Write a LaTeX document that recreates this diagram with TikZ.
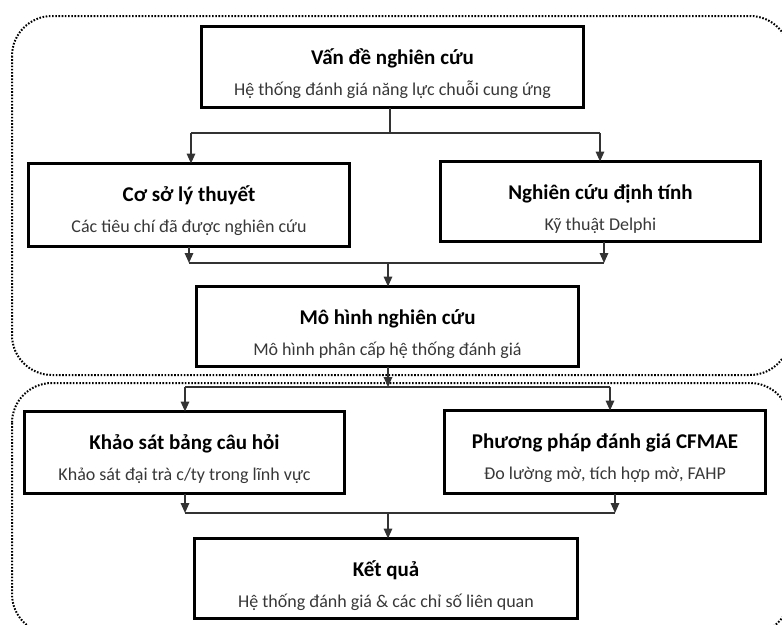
\documentclass[tikz,border=0pt]{standalone}
\usepackage{fontspec}
\setmainfont{Carlito}
\usetikzlibrary{arrows.meta}
\begin{document}
\begin{tikzpicture}[x=1pt,y=-1pt,
  box/.style={draw=black, line width=2.6pt, fill=white, inner sep=0pt, outer sep=0pt},
  ttl/.style={font=\fontsize{21}{24}\selectfont\bfseries, text=black, anchor=base, inner sep=0pt},
  sub/.style={font=\fontsize{18}{21}\selectfont, text=black!78, anchor=base, inner sep=0pt},
  conn/.style={draw=black!80, line width=1.6pt},
  arr/.style={conn, -{Triangle[width=8.5pt,length=10pt]}},
  region/.style={draw=black, line width=2pt, dash pattern=on 1.6pt off 1.6pt, rounded corners=40pt}
]
\useasboundingbox (0,0) rectangle (782,624);
\begin{scope}
\clip (0,0) rectangle (782,624);
\draw[region] (12,16) rectangle (790,375);
\draw[region] (12,383) rectangle (790,634);
\end{scope}
\node[box, minimum width=382, minimum height=81] (b1) at (392.5,67) {};
\node[box, minimum width=321, minimum height=83] (b2) at (189,205) {};
\node[box, minimum width=320, minimum height=80] (b3) at (600.5,201.5) {};
\node[box, minimum width=382, minimum height=80] (b4) at (387.5,326.5) {};
\node[box, minimum width=320, minimum height=82] (b5) at (184.5,452.5) {};
\node[box, minimum width=321, minimum height=83] (b6) at (605,452) {};
\node[box, minimum width=383, minimum height=80] (b7) at (386,578.5) {};
\foreach \b/\t/\s in {b1/{Vấn đề nghiên cứu}/{Hệ thống đánh giá năng lực chuỗi cung ứng},
  b2/{Cơ sở lý thuyết}/{Các tiêu chí đã được nghiên cứu},
  b3/{Nghiên cứu định tính}/{Kỹ thuật Delphi},
  b4/{Mô hình nghiên cứu}/{Mô hình phân cấp hệ thống đánh giá},
  b5/{Khảo sát bảng câu hỏi}/{Khảo sát đại trà c/ty trong lĩnh vực},
  b6/{Phương pháp đánh giá CFMAE}/{Đo lường mờ, tích hợp mờ, FAHP},
  b7/{Kết quả}/{Hệ thống đánh giá \& các chỉ số liên quan}}{
  \node[ttl] (\b t) at ([yshift=-38pt]\b.north) {\t};
  \node[sub] (\b s) at ([yshift=-69pt]\b.north) {\s};
}
% junctions
\coordinate (j1) at (390,133);
\coordinate (j1l) at (191,133);
\coordinate (j1r) at (600,133);
\coordinate (j2) at (388,263);
\coordinate (j2l) at (189,263);
\coordinate (j2r) at (604,263);
\coordinate (j3) at (388,387);
\coordinate (j3l) at (185,387);
\coordinate (j3r) at (610,387);
\coordinate (j4) at (388,513);
\coordinate (j4l) at (185,513);
\coordinate (j4r) at (615,513);
% level 1
\draw[conn] (b1.south -| j1) -- (j1);
\draw[conn] (j1l) -- (j1r);
\draw[arr] (j1l) -- (j1l |- b2.north);
\draw[arr] (j1r) -- (j1r |- b3.north);
% level 2
\draw[arr] (j2l |- b2.south) -- (j2l);
\draw[arr] (j2r |- b3.south) -- (j2r);
\draw[conn] (j2l) -- (j2r);
\draw[arr] (j2) -- (j2 |- b4.north);
% level 3
\draw[arr] (j3 |- b4.south) -- (j3);
\draw[conn] (j3l) -- (j3r);
\draw[arr] (j3l) -- (j3l |- b5.north);
\draw[arr] (j3r) -- (j3r |- b6.north);
% level 4
\draw[arr] (j4l |- b5.south) -- (j4l);
\draw[arr] (j4r |- b6.south) -- (j4r);
\draw[conn] (j4l) -- (j4r);
\draw[arr] (j4) -- (j4 |- b7.north);
\end{tikzpicture}
\end{document}
